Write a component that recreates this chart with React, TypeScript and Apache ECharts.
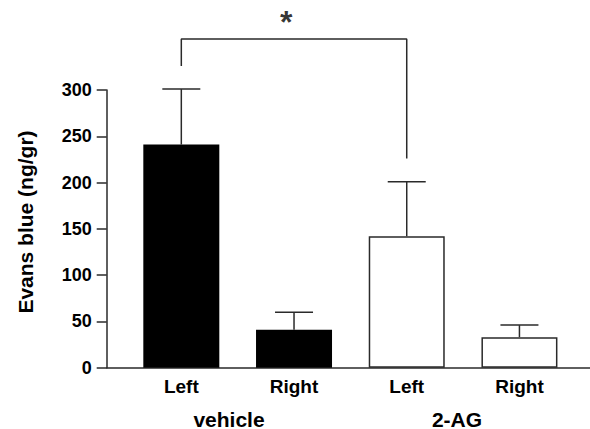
import React, { useEffect, useRef } from "react";
import * as echarts from "echarts";

const categories = ["Left", "Right", "Left", "Right"];
const groups = ["vehicle", "vehicle", "2-AG", "2-AG"];
const groupNames = ["vehicle", "2-AG"];
const positions = [1, 2, 3, 4];
const means = [241, 41, 142, 33];
const errTops = [301, 60, 201, 46];
const bracket = [
  [1, 326],
  [1, 355],
  [3, 355],
  [3, 226],
];
const starPoint = [1.93, 374];
const yTicks = [0, 50, 100, 150, 200, 250, 300];

const FONT = "'Liberation Sans', Arial, Helvetica, sans-serif";
const LINE = "#2a2a2a";

export default function App() {
  const ref = useRef<HTMLDivElement>(null);
  useEffect(() => {
    if (!ref.current) return;
    const chart = echarts.init(ref.current, undefined, { renderer: "svg" });
    const barData = positions.map((p, i) => ({
      value: [p, means[i]],
      itemStyle:
        groups[i] === "vehicle"
          ? { color: "#000", borderColor: "#000", borderWidth: 0 }
          : { color: "#fff", borderColor: LINE, borderWidth: 1.5 },
    }));
    const errData = positions.map((p, i) => [p, means[i], errTops[i]]);
    const option: any = {
      animation: false,
      backgroundColor: "#fff",
      textStyle: { fontFamily: FONT },
      grid: { left: 106.7, right: 0, top: 90, bottom: 61.3 },
      xAxis: {
        type: "value",
        min: 0.338,
        max: 4.626,
        axisLine: { show: true, onZero: false, lineStyle: { color: LINE, width: 1.5 } },
        axisTick: { show: false },
        splitLine: { show: false },
        axisLabel: {
          customValues: positions,
          formatter: (v: number) => categories[Math.round(v) - 1] ?? "",
          color: "#000",
          fontWeight: "bold",
          fontSize: 19,
          fontFamily: FONT,
          margin: 9,
        },
      },
      yAxis: {
        type: "value",
        min: yTicks[0],
        max: yTicks[yTicks.length - 1],
        interval: 50,
        axisLine: { show: true, onZero: false, lineStyle: { color: LINE, width: 1.5 } },
        axisTick: { show: true, length: 10, lineStyle: { color: LINE, width: 1.5 } },
        splitLine: { show: false },
        axisLabel: {
          color: "#000",
          fontWeight: "bold",
          fontSize: 18,
          fontFamily: FONT,
          margin: 15,
        },
      },
      series: [
        {
          type: "bar",
          data: barData,
          barWidth: 76,
          z: 2,
        },
        {
          type: "custom",
          data: errData,
          z: 3,
          renderItem: (params: any, api: any) => {
            const x = api.value(0);
            const lo = api.coord([x, api.value(1)]);
            const hi = api.coord([x, api.value(2)]);
            const half = 19;
            return {
              type: "group",
              children: [
                {
                  type: "line",
                  shape: { x1: lo[0], y1: lo[1], x2: hi[0], y2: hi[1] },
                  style: { stroke: LINE, lineWidth: 1.5 },
                },
                {
                  type: "line",
                  shape: { x1: hi[0] - half, y1: hi[1], x2: hi[0] + half, y2: hi[1] },
                  style: { stroke: LINE, lineWidth: 1.5 },
                },
              ],
            };
          },
        },
        {
          type: "line",
          data: bracket,
          clip: false,
          symbol: "none",
          lineStyle: { color: LINE, width: 1.5 },
          z: 3,
        },
        {
          type: "scatter",
          data: [starPoint],
          clip: false,
          symbolSize: 0,
          label: {
            show: true,
            position: "inside",
            formatter: "*",
            color: "#000",
            fontWeight: "bold",
            fontSize: 32,
            fontFamily: FONT,
          },
        },
      ],
      graphic: [
        {
          type: "text",
          x: 25,
          y: 222,
          rotation: Math.PI / 2,
          style: {
            text: "Evans blue (ng/gr)",
            fontSize: 21,
            fontWeight: "bold",
            fontFamily: FONT,
            fill: "#000",
            align: "center",
            verticalAlign: "middle",
          },
        },
        {
          type: "text",
          x: 229,
          y: 419,
          style: {
            text: groupNames[0],
            fontSize: 21,
            fontWeight: "bold",
            fontFamily: FONT,
            fill: "#000",
            align: "center",
            verticalAlign: "middle",
          },
        },
        {
          type: "text",
          x: 457,
          y: 419,
          style: {
            text: groupNames[1],
            fontSize: 21,
            fontWeight: "bold",
            fontFamily: FONT,
            fill: "#000",
            align: "center",
            verticalAlign: "middle",
          },
        },
      ],
    };
    chart.setOption(option);
    return () => chart.dispose();
  }, []);
  return (
    <div
      ref={ref}
      style={{ position: "absolute", left: 0, top: 0, width: 590, height: 429 }}
    />
  );
}
